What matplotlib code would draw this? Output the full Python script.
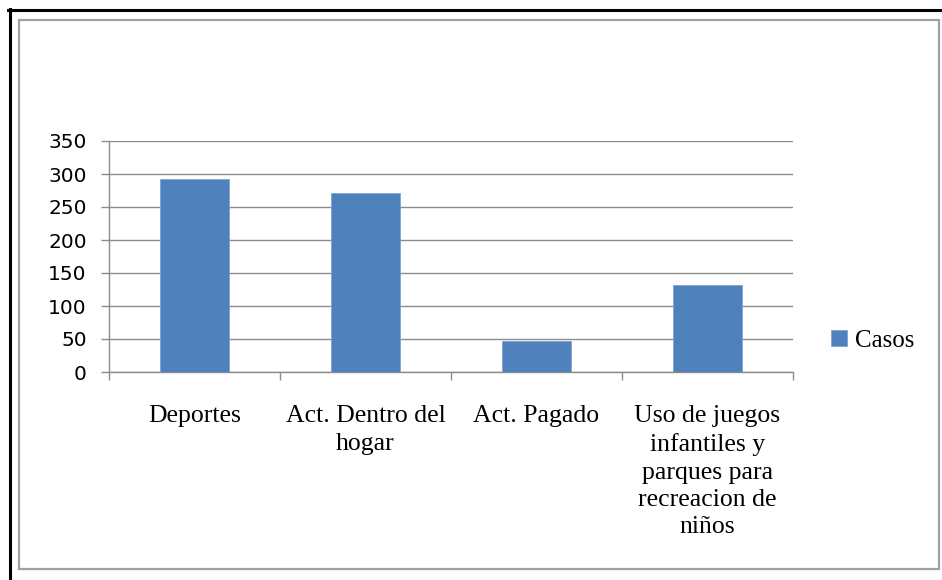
import matplotlib.pyplot as plt
from matplotlib.patches import Rectangle
from matplotlib.lines import Line2D

categories = [
    "Deportes",
    "Act. Dentro del\nhogar",
    "Act. Pagado",
    "Uso de juegos\ninfantiles y\nparques para\nrecreacion de\nniños",
]
casos = [293, 271, 47, 132]
y_ticks = [0, 50, 100, 150, 200, 250, 300, 350]

W, H = 942, 580
fig = plt.figure(figsize=(W / 100, H / 100), dpi=100)
fig.patch.set_facecolor("white")

# outer black frame (top + left only) and inner gray border
fig.add_artist(Line2D([8 / W, 1], [1 - 10 / H, 1 - 10 / H], color="black", lw=2.2, transform=fig.transFigure))
fig.add_artist(Line2D([9.5 / W, 9.5 / W], [0, 1 - 9 / H], color="black", lw=2.2, transform=fig.transFigure))
fig.add_artist(Rectangle((18.5 / W, 1 - 569 / H), (939 - 18.5) / W, (569 - 19.5) / H,
                         transform=fig.transFigure, fill=False, edgecolor="#a0a0a0", lw=1.6))

ax = fig.add_axes([109 / W, 1 - 372 / H, (793 - 109) / W, (372 - 141) / H])
x = list(range(len(categories)))
ax.bar(x, casos, width=0.4, color="#4F81BD", edgecolor="#7fa3d0", linewidth=0.6,
       label="Casos", zorder=3)

ax.set_xlim(-0.5, len(categories) - 0.5)
ax.set_ylim(0, 350)
ax.set_yticks(y_ticks)
ax.set_yticklabels([str(v) for v in y_ticks], fontfamily="DejaVu Sans", fontsize=14.5)
ax.grid(axis="y", color="#8c8c8c", lw=1, zorder=0)

ax.set_xticks(x)
ax.set_xticklabels(categories, fontfamily="Liberation Serif", fontsize=18.5, linespacing=1.32)
ax.set_xticks([i - 0.5 for i in range(len(categories) + 1)], minor=True)
ax.tick_params(axis="x", which="major", length=0, pad=24)
ax.tick_params(axis="x", which="minor", length=6, color="#8c8c8c", width=1)
ax.tick_params(axis="y", length=6, color="#8c8c8c", width=1, pad=10)

for s in ["top", "right"]:
    ax.spines[s].set_visible(False)
for s in ["left", "bottom"]:
    ax.spines[s].set_color("#8c8c8c")
    ax.spines[s].set_linewidth(1)

fig.legend(loc="center left", bbox_to_anchor=(831 / W, 1 - 341 / H), frameon=False,
           prop={"family": "Liberation Serif", "size": 18}, handlelength=0.65,
           handleheight=0.6, handletextpad=0.3, borderpad=0, borderaxespad=0)

fig.savefig("out.png", dpi=100)
